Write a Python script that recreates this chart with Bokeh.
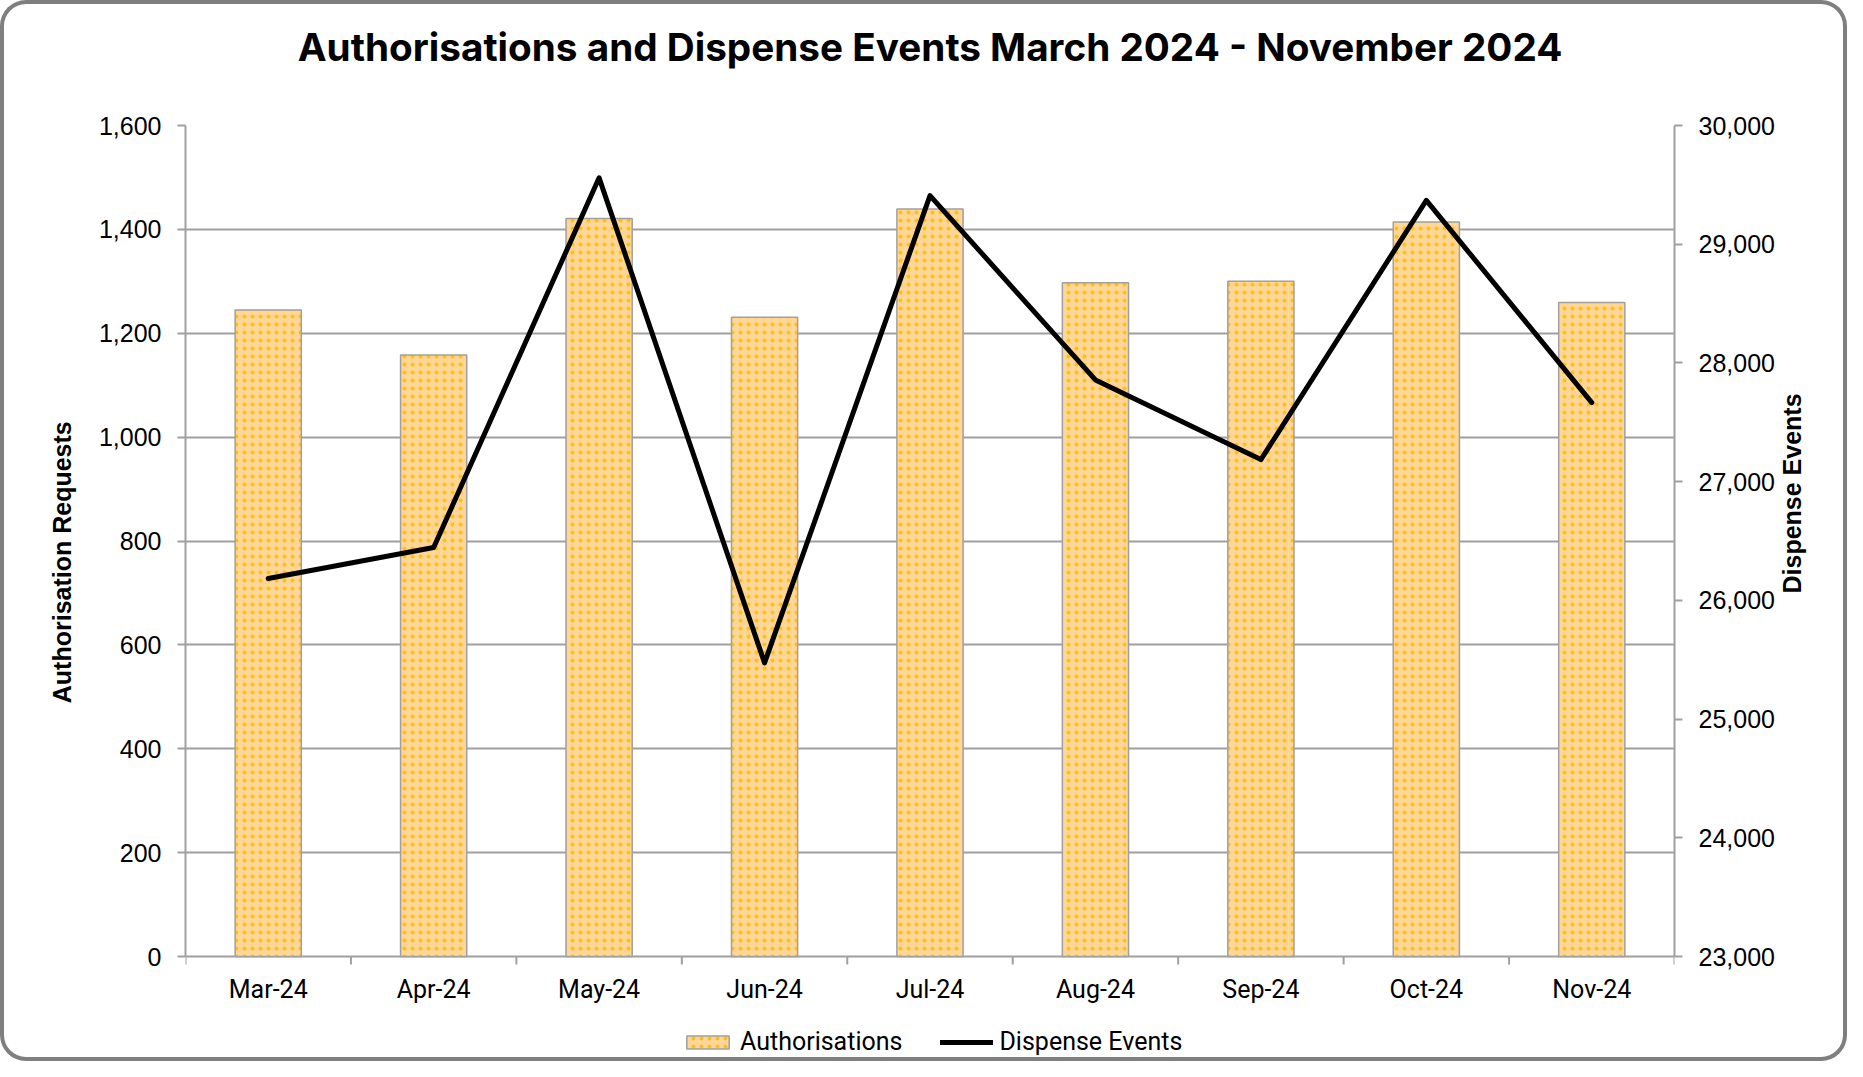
import math
from bokeh.plotting import figure
from bokeh.models import (Range1d, LinearAxis, FixedTicker, NumeralTickFormatter,
                          Legend, LegendItem, ColumnDataSource, Title)
from bokeh.core.properties import value
from bokeh.embed import file_html
from bokeh.resources import INLINE

# ---- data ----
months = ["Mar-24", "Apr-24", "May-24", "Jun-24", "Jul-24", "Aug-24", "Sep-24", "Oct-24", "Nov-24"]
authorisations = [1245, 1158, 1421, 1231, 1439, 1297, 1300, 1414, 1259]
dispense_events = [26184, 26445, 29559, 25473, 29409, 27857, 27186, 29369, 27666]
left_ticks = [0, 200, 400, 600, 800, 1000, 1200, 1400, 1600]
right_ticks = [23000, 24000, 25000, 26000, 27000, 28000, 29000, 30000]

positions = list(range(1, len(months) + 1))
boundaries = [i + 0.5 for i in range(0, len(months) + 1)]

source = ColumnDataSource(dict(x=positions, month=months, auth=authorisations, de=dispense_events))

GRID = "#A0A0A0"
NUM_FONT = "Liberation Sans"
TXT_FONT = "Roboto"

W, H = 1847, 1061
FL, FR, FT, ZERO = 185, 1674, 125, 956   # frame left/right/top and pixel row of the value axes' start

# the frame extends below the value axes' start so the category labels and legend live inside it
below_px = H - ZERO
l_lo, l_hi = left_ticks[0], left_ticks[-1]
r_lo, r_hi = right_ticks[0], right_ticks[-1]
l_upp = (l_hi - l_lo) / (ZERO - FT)
r_upp = (r_hi - r_lo) / (ZERO - FT)

p = figure(width=W, height=H, output_backend="svg", toolbar_location=None,
           x_range=Range1d(0.5, len(months) + 0.5),
           y_range=Range1d(l_lo - below_px * l_upp, l_hi),
           min_border_left=FL, min_border_right=W - FR, min_border_top=FT, min_border_bottom=0,
           background_fill_alpha=0, border_fill_alpha=0, outline_line_color=None)
p.styles = {"border-radius": "26px", "box-shadow": "inset 0 0 0 4px #7F7F7F",
            "background-color": "white"}

# titles: spacer (closest to frame) then main title
p.add_layout(Title(text=" ", text_font_size="10px", standoff=43), "above")
p.add_layout(Title(text="Authorisations and Dispense Events March 2024 - November 2024",
                   text_font="Inter", text_font_style="bold", text_font_size="38.7px",
                   text_color="black", align="center", standoff=0), "above")

p.extra_y_ranges = {"de": Range1d(r_lo - below_px * r_upp, r_hi)}

# grid (value-axis gridlines; the one at 0 doubles as the category axis line)
p.xgrid.visible = False
p.ygrid.ticker = FixedTicker(ticks=left_ticks)
p.ygrid.grid_line_color = GRID
p.ygrid.grid_line_width = 2

# bars
bars = p.vbar(x="x", top="auth", bottom=l_lo, width=0.4, source=source,
              fill_color="#FFD696", line_color="#A0A0A0", line_width=1.5,
              hatch_pattern="dot", hatch_color="#FFBF1A", hatch_scale=8, hatch_weight=2)

# line
line = p.line(x="x", y="de", source=source, y_range_name="de",
              line_width=5, line_color="black", line_join="round", line_cap="round")

# category axis: boundary ticks and labels
p.segment(x0=boundaries, y0=l_lo, x1=boundaries, y1=l_lo - 8 * l_upp,
          line_color=GRID, line_width=2)
p.text(x="x", y=l_lo - 33 * l_upp, text="month", source=source,
       text_font=value(TXT_FONT), text_font_size=value("25px"), text_color="black",
       text_align="center", text_baseline="middle")
p.xaxis.visible = False

def style_y(ax):
    ax.minor_tick_line_color = None
    ax.major_tick_line_color = GRID
    ax.major_tick_line_width = 2
    ax.major_tick_in = 0
    ax.major_tick_out = 8
    ax.axis_line_color = GRID
    ax.axis_line_width = 2
    ax.major_label_text_font = NUM_FONT
    ax.major_label_text_font_size = "25px"
    ax.major_label_text_color = "black"
    ax.major_label_standoff = 16
    ax.axis_label_text_font = NUM_FONT
    ax.axis_label_text_font_style = "bold"
    ax.axis_label_text_font_size = "25px"
    ax.axis_label_text_color = "black"

# left axis
ya = p.yaxis[0]
ya.ticker = FixedTicker(ticks=left_ticks)
ya.formatter = NumeralTickFormatter(format="0,0")
ya.bounds = (l_lo, l_hi)
ya.axis_label = "\u00a0" * 9 + "Authorisation Requests"
style_y(ya)
ya.axis_label_standoff = 20

# right axis
ra = LinearAxis(y_range_name="de", ticker=FixedTicker(ticks=right_ticks), bounds=(r_lo, r_hi),
                formatter=NumeralTickFormatter(format="0,0"), axis_label="Dispense Events")
style_y(ra)
ra.axis_label_standoff = 14
ra.axis_label_orientation = math.pi / 2
p.add_layout(ra, "right")

# legend near the bottom of the chart
legend = Legend(items=[LegendItem(label="Authorisations", renderers=[bars]),
                       LegendItem(label="Dispense Events", renderers=[line])],
                orientation="horizontal", location=(681 - FL, 5),
                label_text_font=TXT_FONT, label_text_font_size="25px", label_text_color="black",
                label_standoff=6, spacing=38, glyph_width=53, glyph_height=16,
                padding=0, margin=0, border_line_color=None, background_fill_alpha=0)
p.add_layout(legend, "center")

open("out.html", "w").write(file_html(p, INLINE))
